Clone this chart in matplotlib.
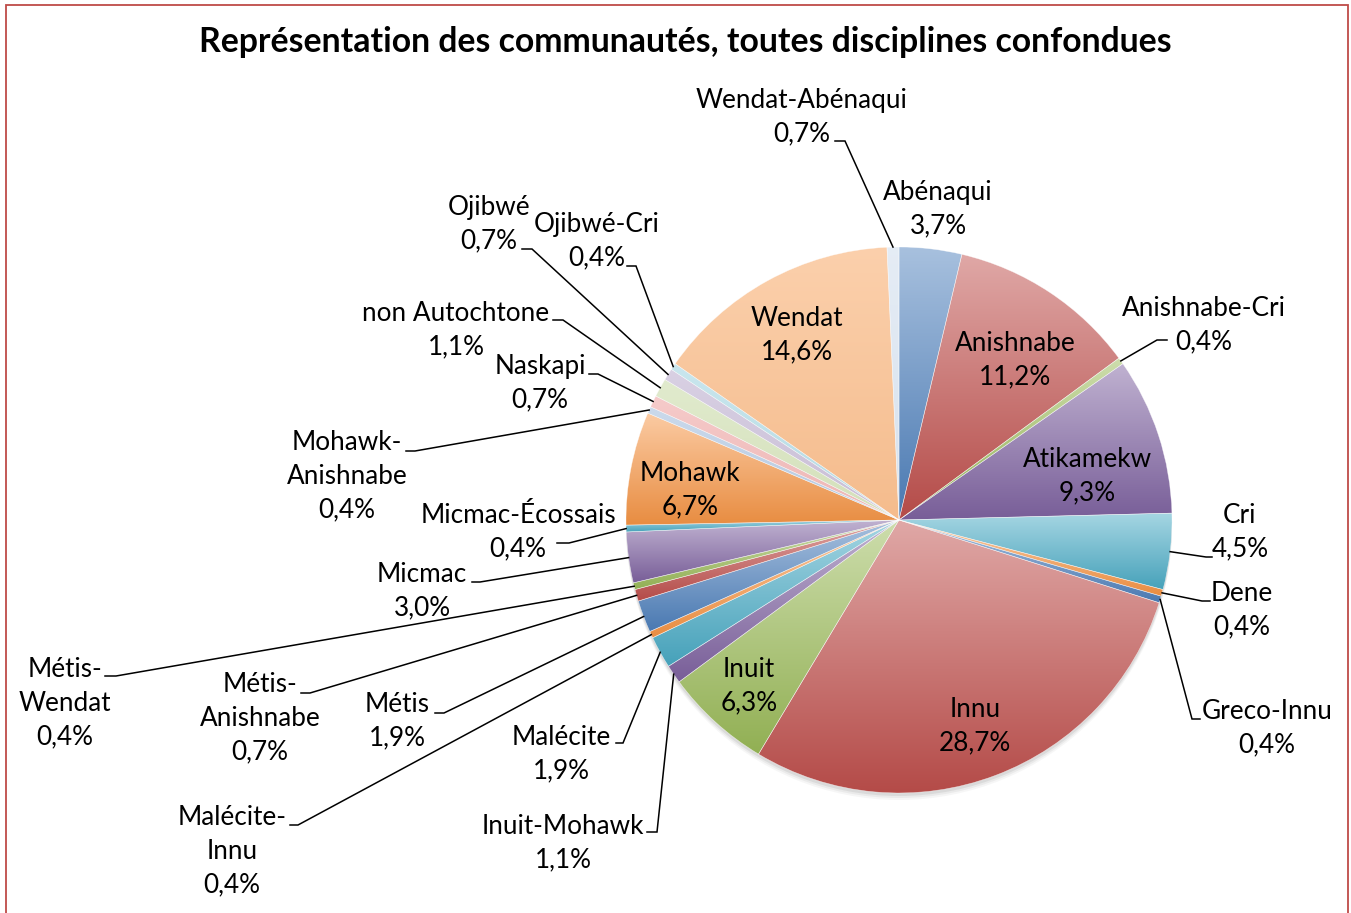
import numpy as np
import matplotlib
matplotlib.use("Agg")
import matplotlib.pyplot as plt
from matplotlib.colors import to_rgb
from matplotlib.patches import Rectangle, Circle

plt.rcParams['font.family'] = ['Lato', 'DejaVu Sans']

#############
############# Data (percent, clockwise from 12 o'clock)
#############

communities = ["Abénaqui", "Anishnabe", "Anishnabe-Cri", "Atikamekw", "Cri", "Dene",
               "Greco-Innu", "Innu", "Inuit", "Inuit-Mohawk", "Malécite", "Malécite-Innu",
               "Métis", "Métis-Anishnabe", "Métis-Wendat", "Micmac", "Micmac-Écossais",
               "Mohawk", "Mohawk-Anishnabe", "Naskapi", "non Autochtone", "Ojibwé",
               "Ojibwé-Cri", "Wendat", "Wendat-Abénaqui"]
percents = [3.7, 11.2, 0.4, 9.3, 4.5, 0.4,
            0.4, 28.7, 6.3, 1.1, 1.9, 0.4,
            1.9, 0.7, 0.4, 3.0, 0.4,
            6.7, 0.4, 0.7, 1.1, 0.7,
            0.4, 14.6, 0.7]
pct_labels = [f"{p:.1f}%".replace(".", ",") for p in percents]

# Office 2007 palette, then its lighter second pass
base_cols = ["#4F81BD", "#C0504D", "#9BBB59", "#8064A2", "#4BACC6", "#F79646"]
light_cols = ["#B9CDE5", "#F2B9B8", "#D7E4BD", "#CCC1DA", "#B7DEE8", "#FAC090", "#DCE6F2"]

#############
############# Layout (pixel coordinates, y down)
#############

W, H = 1351, 913
cx, cy, R = 899, 520, 273
line_gap = 34

# name -> (x centre, y of first line, text lines, elbow, end) ; elbow None = no leader
layout = {
    "Wendat-Abénaqui": (802, 100, ["Wendat-Abénaqui"], (845, 141), (835, 141)),
    "Abénaqui": (938, 192, ["Abénaqui"], None, None),
    "Anishnabe": (1015, 343, ["Anishnabe"], None, None),
    "Anishnabe-Cri": (1204, 308, ["Anishnabe-Cri"], (1157, 340), (1167, 340)),
    "Atikamekw": (1087, 459, ["Atikamekw"], None, None),
    "Cri": (1240, 515, ["Cri"], (1206, 557), (1212, 557)),
    "Dene": (1242, 593, ["Dene"], (1202, 601), (1210, 601)),
    "Greco-Innu": (1267, 711, ["Greco-Innu"], (1192, 719), (1200, 719)),
    "Innu": (975, 709, ["Innu"], None, None),
    "Inuit": (749, 669, ["Inuit"], None, None),
    "Inuit-Mohawk": (563, 826, ["Inuit-Mohawk"], (657, 832), (647, 832)),
    "Malécite": (561, 737, ["Malécite"], (623, 743), (616, 743)),
    "Malécite-Innu": (232, 817, ["Malécite-", "Innu"], (298, 825), (290, 825)),
    "Métis": (397, 704, ["Métis"], (444, 713), (435, 713)),
    "Métis-Anishnabe": (260, 684, ["Métis-", "Anishnabe"], (310, 693), (301, 693)),
    "Métis-Wendat": (65, 669, ["Métis-", "Wendat"], (116, 676), (105, 676)),
    "Micmac": (422, 574, ["Micmac"], (480, 582), (472, 582)),
    "Micmac-Écossais": (518, 515, ["Micmac-Écossais"], (569, 543), (557, 543)),
    "Mohawk": (690, 473, ["Mohawk"], None, None),
    "Mohawk-Anishnabe": (347, 442, ["Mohawk-", "Anishnabe"], (415, 451), (406, 451)),
    "Naskapi": (540, 366, ["Naskapi"], (598, 374), (589, 374)),
    "non Autochtone": (456, 313, ["non Autochtone"], (563, 320), (553, 320)),
    "Ojibwé": (489, 207, ["Ojibwé"], (532, 249), (522, 249)),
    "Ojibwé-Cri": (597, 224, ["Ojibwé-Cri"], (636, 266), (627, 266)),
    "Wendat": (797, 318, ["Wendat"], None, None),
}


def flip(y):
    return H - y


def mix(c, t, amt):
    c = np.array(to_rgb(c))
    return tuple(c + (np.array(t) - c) * amt)


fig = plt.figure(figsize=(W / 100, H / 100), dpi=100)
ax = fig.add_axes([0, 0, 1, 1])

# soft shadow under the pie
for k, a in zip([7, 5, 3], [0.05, 0.07, 0.1]):
    ax.add_patch(Circle((cx, flip(cy) - k), R, color='#555555', alpha=a, lw=0, zorder=0))

colors = []
for i in range(len(percents)):
    if i < 18:
        colors.append(base_cols[i % 6])
    else:
        colors.append(light_cols[i - 18])

wedges, _ = ax.pie(percents, startangle=90, counterclock=False, colors=colors,
                   center=(cx, flip(cy)), radius=R, frame=True,
                   wedgeprops=dict(linewidth=0.4, edgecolor=(1, 1, 1, 0.6)))

# vertical gradient inside every slice
for i, w in enumerate(wedges):
    bb = w.get_path().get_extents(w.get_patch_transform())
    light = i >= 18
    top = mix(colors[i], (1, 1, 1), 0.25 if light else 0.5)
    bot = mix(colors[i], (0, 0, 0), 0.02 if light else 0.06)
    g = np.linspace(0, 1, 64)[:, None, None]
    img = np.array(top)[None, None, :] * (1 - g) + np.array(bot)[None, None, :] * g
    im = ax.imshow(img, extent=(bb.x0, bb.x1, bb.y0, bb.y1), origin='upper',
                   aspect='auto', zorder=1.5, interpolation='bilinear')
    im.set_clip_path(w)

for w in wedges:
    w.set_facecolor('none')
    w.set_zorder(2)

ax.set_xlim(0, W)
ax.set_ylim(0, H)
ax.axis('off')

# labels and leader lines
fs = 18.8
for i, name in enumerate(communities):
    x, y0, lines, elbow, end = layout[name]
    for j, t in enumerate(lines + [pct_labels[i]]):
        ax.text(x, flip(y0 + j * line_gap), t, ha='center', va='center',
                fontsize=fs, color='black', zorder=4)
    if elbow is not None:
        w = wedges[i]
        mid = np.deg2rad((w.theta1 + w.theta2) / 2)
        sx = cx + R * np.cos(mid)
        sy = flip(cy) + R * np.sin(mid)
        ax.plot([sx, elbow[0], end[0]], [sy, flip(elbow[1]), flip(end[1])],
                color='black', lw=1.1, zorder=3, solid_joinstyle='miter')

ax.text(685, flip(42), "Représentation des communautés, toutes disciplines confondues",
        ha='center', va='center', fontsize=24.3, fontweight='bold', zorder=4)

# chart border
ax.add_patch(Rectangle((6, -20), 1342, flip(5) + 20, fill=False,
                       edgecolor='#BE4B48', lw=1.3, zorder=5))

fig.savefig("out.png", dpi=100)
